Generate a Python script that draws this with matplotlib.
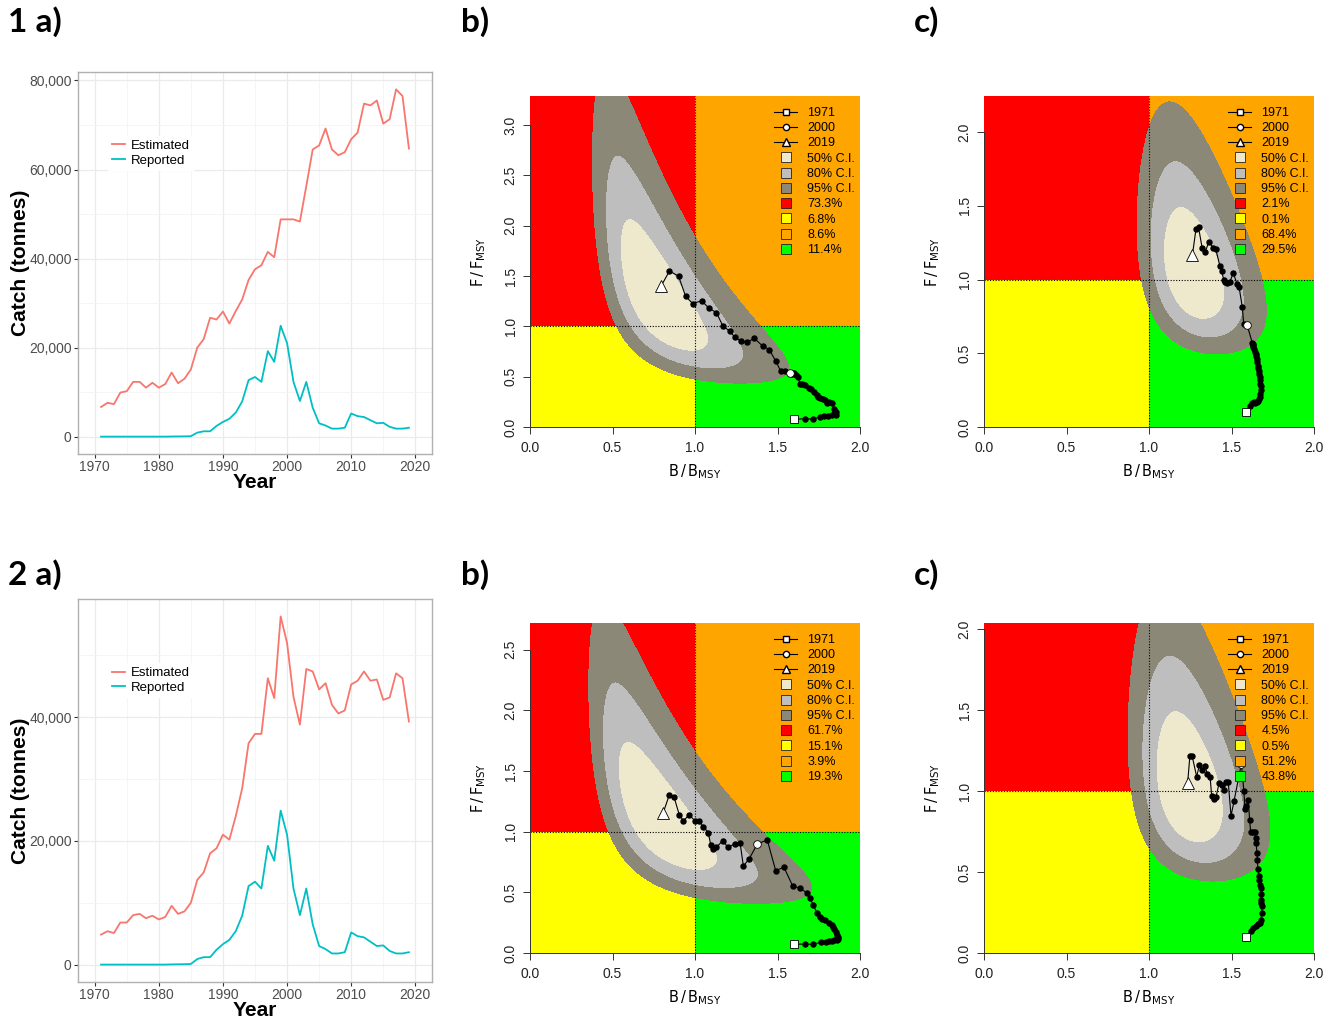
import numpy as np
import matplotlib
matplotlib.use('Agg')
import matplotlib.pyplot as plt
from matplotlib.lines import Line2D
from matplotlib.ticker import FuncFormatter, MultipleLocator

plt.rcParams['font.family'] = ['Liberation Sans', 'DejaVu Sans']

# ---- catch series (tonnes) ----
years = np.arange(1971, 2020)

catch_est_1 = [6660, 7600, 7300, 9900, 10200, 12300, 12300, 11000, 12100, 11000,
               11800, 14400, 12000, 13000, 15100, 20000, 21900, 26700, 26300, 28100,
               25400, 28200, 30800, 35200, 37600, 38500, 41500, 40300, 48800, 48800,
               48800, 48300, 56300, 64500, 65400, 69200, 64500, 63200, 63900, 66800,
               68300, 74800, 74400, 75500, 70300, 71300, 78000, 76500, 64700]

catch_est_2 = [4850, 5400, 5100, 6800, 6800, 8000, 8200, 7500, 7900, 7300,
               7700, 9500, 8200, 8600, 10000, 13700, 14900, 18000, 18800, 21000,
               20200, 24000, 28500, 35800, 37300, 37300, 46300, 43100, 56300, 52000,
               43300, 38800, 47800, 47400, 44500, 45500, 42000, 40600, 41100, 45300,
               45900, 47400, 45900, 46100, 42800, 43200, 47100, 46300, 39300]

catch_rep = [0, 0, 0, 0, 0, 0, 0, 0, 0, 0,
             0, 30, 50, 60, 100, 900, 1200, 1200, 2400, 3300,
             4000, 5400, 7900, 12700, 13400, 12300, 19200, 16800, 24900, 21000,
             12300, 8000, 12300, 6500, 3000, 2500, 1800, 1800, 2000, 5200,
             4600, 4400, 3700, 3000, 3100, 2200, 1800, 1800, 2000]

# ---- Kobe trajectories (B/Bmsy, F/Fmsy), 1971-2019 ----
b1_B = [1.600, 1.665, 1.713, 1.758, 1.784, 1.808, 1.828, 1.845, 1.856, 1.852,
        1.842, 1.828, 1.812, 1.798, 1.788, 1.775, 1.760, 1.748, 1.738, 1.720,
        1.705, 1.690, 1.665, 1.648, 1.635, 1.625, 1.615, 1.600, 1.590, 1.576,
        1.545, 1.520, 1.490, 1.450, 1.410, 1.360, 1.317, 1.280, 1.240, 1.210,
        1.170, 1.130, 1.085, 1.040, 0.986, 0.943, 0.900, 0.845, 0.796]
b1_F = [0.075, 0.083, 0.078, 0.100, 0.108, 0.110, 0.118, 0.125, 0.120, 0.150,
        0.180, 0.235, 0.245, 0.240, 0.265, 0.275, 0.290, 0.300, 0.320, 0.350,
        0.375, 0.385, 0.415, 0.425, 0.430, 0.500, 0.520, 0.535, 0.530, 0.540,
        0.553, 0.553, 0.653, 0.770, 0.805, 0.880, 0.845, 0.850, 0.895, 0.955,
        1.000, 1.137, 1.180, 1.255, 1.226, 1.300, 1.500, 1.550, 1.405]

c1_B = [1.586, 1.615, 1.625, 1.636, 1.645, 1.655, 1.662, 1.668, 1.672, 1.674,
        1.676, 1.676, 1.674, 1.672, 1.670, 1.667, 1.665, 1.662, 1.660, 1.657,
        1.655, 1.651, 1.648, 1.642, 1.636, 1.632, 1.630, 1.628, 1.626, 1.594,
        1.574, 1.565, 1.546, 1.534, 1.511, 1.490, 1.475, 1.462, 1.453, 1.440,
        1.430, 1.405, 1.390, 1.362, 1.342, 1.322, 1.300, 1.285, 1.263]
c1_F = [0.100, 0.145, 0.160, 0.170, 0.165, 0.172, 0.178, 0.190, 0.206, 0.225,
        0.250, 0.275, 0.295, 0.320, 0.340, 0.360, 0.382, 0.400, 0.414, 0.440,
        0.460, 0.480, 0.497, 0.512, 0.528, 0.545, 0.555, 0.563, 0.570, 0.695,
        0.700, 0.817, 0.948, 0.970, 1.043, 0.986, 0.975, 0.985, 1.000, 1.055,
        1.090, 1.205, 1.215, 1.255, 1.190, 1.215, 1.355, 1.345, 1.165]

b2_B = [1.602, 1.667, 1.717, 1.762, 1.792, 1.810, 1.828, 1.845, 1.858, 1.866,
        1.864, 1.860, 1.855, 1.842, 1.835, 1.828, 1.812, 1.790, 1.770, 1.755,
        1.740, 1.717, 1.697, 1.677, 1.636, 1.592, 1.539, 1.489, 1.438, 1.378,
        1.327, 1.293, 1.273, 1.240, 1.200, 1.168, 1.130, 1.110, 1.095, 1.081,
        1.050, 1.026, 1.000, 0.965, 0.930, 0.905, 0.873, 0.845, 0.808]
b2_F = [0.072, 0.074, 0.072, 0.088, 0.094, 0.100, 0.098, 0.104, 0.107, 0.118,
        0.130, 0.150, 0.176, 0.195, 0.215, 0.231, 0.245, 0.272, 0.278, 0.300,
        0.327, 0.396, 0.450, 0.498, 0.533, 0.553, 0.707, 0.679, 0.932, 0.899,
        0.773, 0.718, 0.910, 0.900, 0.870, 0.927, 0.870, 0.860, 0.890, 0.993,
        1.040, 1.090, 1.090, 1.138, 1.090, 1.138, 1.285, 1.306, 1.158]

c2_B = [1.588, 1.616, 1.632, 1.648, 1.662, 1.673, 1.679, 1.683, 1.683, 1.681,
        1.679, 1.677, 1.677, 1.672, 1.668, 1.664, 1.660, 1.657, 1.654, 1.650,
        1.648, 1.640, 1.632, 1.616, 1.610, 1.602, 1.590, 1.582, 1.575, 1.560,
        1.515, 1.497, 1.480, 1.466, 1.455, 1.440, 1.425, 1.406, 1.394, 1.380,
        1.370, 1.353, 1.340, 1.320, 1.305, 1.289, 1.262, 1.248, 1.234]
c2_F = [0.097, 0.138, 0.152, 0.167, 0.179, 0.187, 0.204, 0.250, 0.290, 0.310,
        0.327, 0.365, 0.400, 0.420, 0.450, 0.477, 0.520, 0.572, 0.620, 0.680,
        0.710, 0.745, 0.751, 0.751, 0.820, 0.943, 0.910, 0.890, 1.000, 1.170,
        0.937, 0.848, 1.060, 1.060, 1.009, 1.040, 1.050, 0.964, 0.952, 0.970,
        1.090, 1.105, 1.158, 1.134, 1.160, 1.090, 1.215, 1.220, 1.050]

# posterior summary: median B, median F, sd log B, sd log F, correlation
post_b1 = (0.77, 1.25, 0.29, 0.43, -0.71)
post_c1 = (1.26, 1.045, 0.125, 0.305, -0.37)
post_b2 = (0.78, 1.09, 0.32, 0.40, -0.72)
post_c2 = (1.23, 1.01, 0.14, 0.335, -0.35)

# quadrant probabilities: red, yellow, orange, green
pct_b1 = ['73.3%', '6.8%', '8.6%', '11.4%']
pct_c1 = ['2.1%', '0.1%', '68.4%', '29.5%']
pct_b2 = ['61.7%', '15.1%', '3.9%', '19.3%']
pct_c2 = ['4.5%', '0.5%', '51.2%', '43.8%']

RED, YEL, ORA, GRN = '#FF0000', '#FFFF00', '#FFA500', '#00FF00'
CI50, CI80, CI95 = '#EEE8CD', '#BEBEBE', '#8B8878'

W, H = 1340, 1019
fig = plt.figure(figsize=(W / 100, H / 100), dpi=100)


def px_axes(l, t, r, b):
    return fig.add_axes([l / W, 1 - b / H, (r - l) / W, (b - t) / H])


def catch_panel(ax, est):
    ax.plot(years, est, color='#F8766D', lw=1.3, label='Estimated')
    ax.plot(years, catch_rep, color='#00BFC4', lw=1.3, label='Reported')
    ax.set_ylim(-0.05 * max(est), max(est) * 1.05)
    ax.set_xlim(1967.4, 2022.6)
    ax.xaxis.set_major_locator(MultipleLocator(10))
    ax.xaxis.set_minor_locator(MultipleLocator(5))
    ax.yaxis.set_major_locator(MultipleLocator(20000))
    ax.yaxis.set_minor_locator(MultipleLocator(10000))
    ax.yaxis.set_major_formatter(FuncFormatter(lambda v, p: f'{v:,.0f}'))
    ax.grid(which='major', color='#EBEBEB', lw=0.9)
    ax.grid(which='minor', color='#F4F4F4', lw=0.6)
    ax.set_axisbelow(True)
    for s in ax.spines.values():
        s.set_color('#B0B0B0')
        s.set_linewidth(1.0)
    ax.tick_params(which='major', length=3, color='#333333', labelsize=10,
                   labelcolor='#4D4D4D', pad=1.5)
    ax.tick_params(which='minor', length=0)
    ax.set_xlabel('Year', fontsize=15, fontweight='bold', va='center')
    ax.set_ylabel('Catch (tonnes)', fontsize=15, fontweight='bold', va='center')
    ax.xaxis.set_label_coords(0.5, -28 / 382)
    ax.yaxis.set_label_coords(-58 / 354, 0.5)
    ax.legend(loc='upper left', bbox_to_anchor=(0.067, 0.85), fontsize=9.5,
              frameon=True, facecolor='white', edgecolor='none',
              framealpha=1, handlelength=1.0, handletextpad=0.4,
              labelspacing=0.2, borderpad=0.3, fancybox=False)


def kobe_panel(ax, B, F, post, ymax, pct):
    ax.fill_between([0, 1], 1, ymax, color=RED, lw=0)
    ax.fill_between([0, 1], 0, 1, color=YEL, lw=0)
    ax.fill_between([1, 2], 1, ymax, color=ORA, lw=0)
    ax.fill_between([1, 2], 0, 1, color=GRN, lw=0)

    mb, mf, sb, sf, r = post
    X, Y = np.meshgrid(np.linspace(0.002, 2, 500), np.linspace(0.002, ymax, 500))
    zb = (np.log(X) - np.log(mb)) / sb
    zf = (np.log(Y) - np.log(mf)) / sf
    d2 = (zb ** 2 - 2 * r * zb * zf + zf ** 2) / (1 - r ** 2)
    lv = [-2 * np.log(1 - p) for p in (0.5, 0.8, 0.95)]
    ax.contourf(X, Y, d2, levels=[0] + lv, colors=[CI50, CI80, CI95])

    ax.axvline(1, color='k', ls=(0, (1, 1.5)), lw=0.8)
    ax.axhline(1, color='k', ls=(0, (1, 1.5)), lw=0.8)

    ax.plot(B, F, '-', color='k', lw=0.8)
    ax.plot(B[1:-1], F[1:-1], 'o', color='k', ms=3.6)
    ax.plot(B[0], F[0], 's', mfc='white', mec='k', ms=5.5, mew=0.6)
    ax.plot(B[29], F[29], 'o', mfc='white', mec='k', ms=5.5, mew=0.6)
    ax.plot(B[-1], F[-1], '^', mfc='white', mec='k', ms=9, mew=0.6)

    ax.set_xlim(0, 2)
    ax.set_ylim(0, ymax)
    yt = np.arange(0, ymax + 1e-9, 0.5)
    ax.set_xticks([0, 0.5, 1.0, 1.5, 2.0])
    ax.set_yticks(yt)
    ax.set_xticklabels(['0.0', '0.5', '1.0', '1.5', '2.0'])
    ax.set_yticklabels([f'{v:.1f}' for v in yt], rotation=90, va='center')
    for s in ('top', 'right'):
        ax.spines[s].set_visible(False)
    ax.spines['left'].set_bounds(0, yt[-1])
    ax.spines['bottom'].set_bounds(0, 2)
    for s in ('left', 'bottom'):
        ax.spines[s].set_linewidth(0.7)
        ax.spines[s].set_color('#333333')
    ax.tick_params(length=5, width=0.7, labelsize=10, color='#333333',
                   labelcolor='#222222')
    ax.tick_params(axis='x', pad=5)
    ax.tick_params(axis='y', pad=4)
    ax.set_xlabel(r'$\mathrm{B\,/\,B_{MSY}}$', fontsize=10.5, labelpad=5)
    ax.set_ylabel(r'$\mathrm{F\,/\,F_{MSY}}$', fontsize=10.5, labelpad=11)

    sq = dict(ls='none', marker='s', ms=7, mec='#222222', mew=0.6)
    handles = [
        Line2D([], [], color='k', lw=0.8, marker='s', mfc='white', mec='k', ms=5),
        Line2D([], [], color='k', lw=0.8, marker='o', mfc='white', mec='k', ms=4.5),
        Line2D([], [], color='k', lw=0.8, marker='^', mfc='white', mec='k', ms=6),
        Line2D([], [], mfc=CI50, **sq),
        Line2D([], [], mfc=CI80, **sq),
        Line2D([], [], mfc=CI95, **sq),
        Line2D([], [], mfc=RED, **sq),
        Line2D([], [], mfc=YEL, **sq),
        Line2D([], [], mfc=ORA, **sq),
        Line2D([], [], mfc=GRN, **sq),
    ]
    labels = ['1971', '2000', '2019', '50% C.I.', '80% C.I.', '95% C.I.'] + pct
    ax.legend(handles, labels, loc='upper left', bbox_to_anchor=(0.74, 0.967),
              frameon=False, fontsize=9, handlelength=1.85, handletextpad=0.8,
              labelspacing=0.26, borderpad=0, borderaxespad=0)


catch_panel(px_axes(78, 72, 432, 454), catch_est_1)
catch_panel(px_axes(78, 599, 432, 982), catch_est_2)

kobe_panel(px_axes(530, 96, 860, 427), b1_B, b1_F, post_b1, 3.29, pct_b1)
kobe_panel(px_axes(984, 96, 1314, 427), c1_B, c1_F, post_c1, 2.245, pct_c1)
kobe_panel(px_axes(530, 623, 860, 953), b2_B, b2_F, post_b2, 2.72, pct_b2)
kobe_panel(px_axes(984, 623, 1314, 953), c2_B, c2_F, post_c2, 2.04, pct_c2)

lab = dict(fontsize=24, fontweight='bold', family=['Lato', 'DejaVu Sans'],
           va='center', ha='left')
fig.text(8 / W, 1 - 22 / H, '1 a)', **lab)
fig.text(461 / W, 1 - 22 / H, 'b)', **lab)
fig.text(914 / W, 1 - 22 / H, 'c)', **lab)
fig.text(8 / W, 1 - 575 / H, '2 a)', **lab)
fig.text(461 / W, 1 - 575 / H, 'b)', **lab)
fig.text(914 / W, 1 - 575 / H, 'c)', **lab)

fig.savefig('out.png', dpi=100, facecolor='white')
